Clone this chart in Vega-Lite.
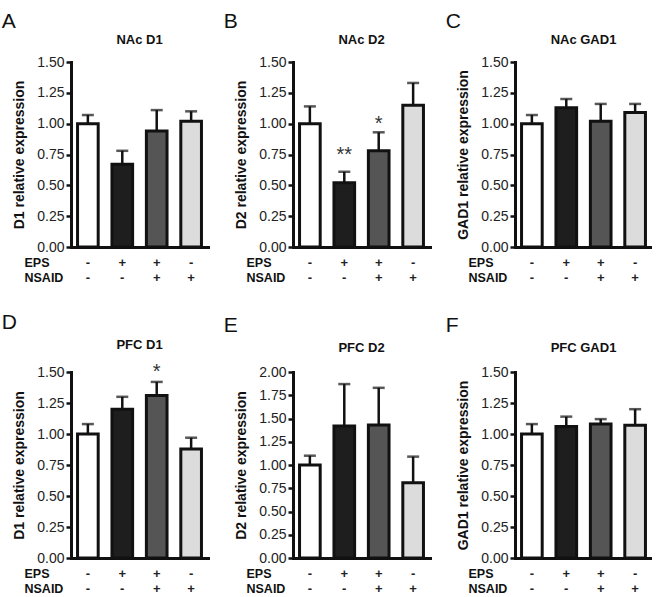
{
  "$schema": "https://vega.github.io/schema/vega-lite/v6.json",
  "padding": {"left": 1, "top": 11, "right": 0, "bottom": 0},
  "background": "white",
  "data": {"values": [
    {"panel": "A", "group": "ctrl", "mean": 1.00, "upper": 1.07},
    {"panel": "A", "group": "eps", "mean": 0.67, "upper": 0.78},
    {"panel": "A", "group": "both", "mean": 0.94, "upper": 1.11},
    {"panel": "A", "group": "nsaid", "mean": 1.02, "upper": 1.10},
    {"panel": "B", "group": "ctrl", "mean": 1.00, "upper": 1.14},
    {"panel": "B", "group": "eps", "mean": 0.52, "upper": 0.61, "star": "**", "star_y": 0.79},
    {"panel": "B", "group": "both", "mean": 0.78, "upper": 0.93, "star": "*", "star_y": 1.04},
    {"panel": "B", "group": "nsaid", "mean": 1.15, "upper": 1.33},
    {"panel": "C", "group": "ctrl", "mean": 1.00, "upper": 1.07},
    {"panel": "C", "group": "eps", "mean": 1.13, "upper": 1.20},
    {"panel": "C", "group": "both", "mean": 1.02, "upper": 1.16},
    {"panel": "C", "group": "nsaid", "mean": 1.09, "upper": 1.16},
    {"panel": "D", "group": "ctrl", "mean": 1.00, "upper": 1.08},
    {"panel": "D", "group": "eps", "mean": 1.20, "upper": 1.30},
    {"panel": "D", "group": "both", "mean": 1.31, "upper": 1.42, "star": "*", "star_y": 1.54},
    {"panel": "D", "group": "nsaid", "mean": 0.88, "upper": 0.97},
    {"panel": "E", "group": "ctrl", "mean": 1.00, "upper": 1.10},
    {"panel": "E", "group": "eps", "mean": 1.42, "upper": 1.87},
    {"panel": "E", "group": "both", "mean": 1.43, "upper": 1.83},
    {"panel": "E", "group": "nsaid", "mean": 0.81, "upper": 1.09},
    {"panel": "F", "group": "ctrl", "mean": 1.00, "upper": 1.08},
    {"panel": "F", "group": "eps", "mean": 1.06, "upper": 1.14},
    {"panel": "F", "group": "both", "mean": 1.08, "upper": 1.12},
    {"panel": "F", "group": "nsaid", "mean": 1.07, "upper": 1.20}
  ]},
  "spacing": 28,
  "vconcat": [
    {"hconcat": [
      {"title": {"text": "A", "anchor": "start", "fontSize": 21, "fontWeight": "normal", "dx": -11, "offset": 2},
       "vconcat": [{
        "width": 137, "height": 185,
        "title": {"text": "NAc D1", "fontSize": 13, "fontWeight": "bold", "offset": 8},
        "transform": [{"filter": "datum.panel == 'A'"}],
        "encoding": {"x": {"field": "group", "type": "nominal", "sort": ["ctrl", "eps", "both", "nsaid"], "scale": {"paddingInner": 0.4, "paddingOuter": 0.19},
          "axis": {"title": ["EPS", "NSAID"], "labelExpr": "datum.value == 'ctrl' ? ['-','-'] : datum.value == 'eps' ? ['+','-'] : datum.value == 'both' ? ['+','+'] : ['-','+']"}}},
        "layer": [
          {"mark": {"type": "bar", "stroke": "#111", "strokeWidth": 3},
           "encoding": {"y": {"field": "mean", "type": "quantitative", "title": "D1 relative expression", "scale": {"domain": [0, 1.5], "nice": false}, "axis": {"values": [0, 0.25, 0.5, 0.75, 1, 1.25, 1.5]}},
             "color": {"field": "group", "type": "nominal", "scale": {"domain": ["ctrl", "eps", "both", "nsaid"], "range": ["#ffffff", "#1e1e1e", "#555555", "#dcdcdc"]}, "legend": null}}},
          {"mark": {"type": "rule", "strokeWidth": 2.5, "color": "#111"},
           "encoding": {"y": {"field": "mean", "type": "quantitative", "title": "D1 relative expression", "axis": {"values": [0, 0.25, 0.5, 0.75, 1, 1.25, 1.5]}}, "y2": {"field": "upper"}}},
          {"mark": {"type": "tick", "size": 12, "thickness": 2.5, "color": "#111"},
           "encoding": {"y": {"field": "upper", "type": "quantitative", "title": "D1 relative expression", "axis": {"values": [0, 0.25, 0.5, 0.75, 1, 1.25, 1.5]}}}},
          {"transform": [{"filter": "datum.star"}], "mark": {"type": "text", "fontSize": 20, "color": "#333", "baseline": "alphabetic", "dy": 11},
           "encoding": {"y": {"field": "star_y", "type": "quantitative", "title": "D1 relative expression", "axis": {"values": [0, 0.25, 0.5, 0.75, 1, 1.25, 1.5]}}, "text": {"field": "star"}}}
        ]
      }]},
      {"title": {"text": "B", "anchor": "start", "fontSize": 21, "fontWeight": "normal", "dx": -11, "offset": 2},
       "vconcat": [{
        "width": 137, "height": 185,
        "title": {"text": "NAc D2", "fontSize": 13, "fontWeight": "bold", "offset": 8},
        "transform": [{"filter": "datum.panel == 'B'"}],
        "encoding": {"x": {"field": "group", "type": "nominal", "sort": ["ctrl", "eps", "both", "nsaid"], "scale": {"paddingInner": 0.4, "paddingOuter": 0.19},
          "axis": {"title": ["EPS", "NSAID"], "labelExpr": "datum.value == 'ctrl' ? ['-','-'] : datum.value == 'eps' ? ['+','-'] : datum.value == 'both' ? ['+','+'] : ['-','+']"}}},
        "layer": [
          {"mark": {"type": "bar", "stroke": "#111", "strokeWidth": 3},
           "encoding": {"y": {"field": "mean", "type": "quantitative", "title": "D2 relative expression", "scale": {"domain": [0, 1.5], "nice": false}, "axis": {"values": [0, 0.25, 0.5, 0.75, 1, 1.25, 1.5]}},
             "color": {"field": "group", "type": "nominal", "scale": {"domain": ["ctrl", "eps", "both", "nsaid"], "range": ["#ffffff", "#1e1e1e", "#555555", "#dcdcdc"]}, "legend": null}}},
          {"mark": {"type": "rule", "strokeWidth": 2.5, "color": "#111"},
           "encoding": {"y": {"field": "mean", "type": "quantitative", "title": "D2 relative expression", "axis": {"values": [0, 0.25, 0.5, 0.75, 1, 1.25, 1.5]}}, "y2": {"field": "upper"}}},
          {"mark": {"type": "tick", "size": 12, "thickness": 2.5, "color": "#111"},
           "encoding": {"y": {"field": "upper", "type": "quantitative", "title": "D2 relative expression", "axis": {"values": [0, 0.25, 0.5, 0.75, 1, 1.25, 1.5]}}}},
          {"transform": [{"filter": "datum.star"}], "mark": {"type": "text", "fontSize": 20, "color": "#333", "baseline": "alphabetic", "dy": 11},
           "encoding": {"y": {"field": "star_y", "type": "quantitative", "title": "D2 relative expression", "axis": {"values": [0, 0.25, 0.5, 0.75, 1, 1.25, 1.5]}}, "text": {"field": "star"}}}
        ]
      }]},
      {"title": {"text": "C", "anchor": "start", "fontSize": 21, "fontWeight": "normal", "dx": -11, "offset": 2},
       "vconcat": [{
        "width": 137, "height": 185,
        "title": {"text": "NAc GAD1", "fontSize": 13, "fontWeight": "bold", "offset": 8},
        "transform": [{"filter": "datum.panel == 'C'"}],
        "encoding": {"x": {"field": "group", "type": "nominal", "sort": ["ctrl", "eps", "both", "nsaid"], "scale": {"paddingInner": 0.4, "paddingOuter": 0.19},
          "axis": {"title": ["EPS", "NSAID"], "labelExpr": "datum.value == 'ctrl' ? ['-','-'] : datum.value == 'eps' ? ['+','-'] : datum.value == 'both' ? ['+','+'] : ['-','+']"}}},
        "layer": [
          {"mark": {"type": "bar", "stroke": "#111", "strokeWidth": 3},
           "encoding": {"y": {"field": "mean", "type": "quantitative", "title": "GAD1 relative expression", "scale": {"domain": [0, 1.5], "nice": false}, "axis": {"values": [0, 0.25, 0.5, 0.75, 1, 1.25, 1.5]}},
             "color": {"field": "group", "type": "nominal", "scale": {"domain": ["ctrl", "eps", "both", "nsaid"], "range": ["#ffffff", "#1e1e1e", "#555555", "#dcdcdc"]}, "legend": null}}},
          {"mark": {"type": "rule", "strokeWidth": 2.5, "color": "#111"},
           "encoding": {"y": {"field": "mean", "type": "quantitative", "title": "GAD1 relative expression", "axis": {"values": [0, 0.25, 0.5, 0.75, 1, 1.25, 1.5]}}, "y2": {"field": "upper"}}},
          {"mark": {"type": "tick", "size": 12, "thickness": 2.5, "color": "#111"},
           "encoding": {"y": {"field": "upper", "type": "quantitative", "title": "GAD1 relative expression", "axis": {"values": [0, 0.25, 0.5, 0.75, 1, 1.25, 1.5]}}}}
        ]
      }]}
    ]},
    {"hconcat": [
      {"title": {"text": "D", "anchor": "start", "fontSize": 21, "fontWeight": "normal", "dx": -11, "offset": 6},
       "vconcat": [{
        "width": 137, "height": 186,
        "title": {"text": "PFC D1", "fontSize": 13, "fontWeight": "bold", "offset": 10},
        "transform": [{"filter": "datum.panel == 'D'"}],
        "encoding": {"x": {"field": "group", "type": "nominal", "sort": ["ctrl", "eps", "both", "nsaid"], "scale": {"paddingInner": 0.4, "paddingOuter": 0.19},
          "axis": {"title": ["EPS", "NSAID"], "labelExpr": "datum.value == 'ctrl' ? ['-','-'] : datum.value == 'eps' ? ['+','-'] : datum.value == 'both' ? ['+','+'] : ['-','+']"}}},
        "layer": [
          {"mark": {"type": "bar", "stroke": "#111", "strokeWidth": 3},
           "encoding": {"y": {"field": "mean", "type": "quantitative", "title": "D1 relative expression", "scale": {"domain": [0, 1.5], "nice": false}, "axis": {"values": [0, 0.25, 0.5, 0.75, 1, 1.25, 1.5]}},
             "color": {"field": "group", "type": "nominal", "scale": {"domain": ["ctrl", "eps", "both", "nsaid"], "range": ["#ffffff", "#1e1e1e", "#555555", "#dcdcdc"]}, "legend": null}}},
          {"mark": {"type": "rule", "strokeWidth": 2.5, "color": "#111"},
           "encoding": {"y": {"field": "mean", "type": "quantitative", "title": "D1 relative expression", "axis": {"values": [0, 0.25, 0.5, 0.75, 1, 1.25, 1.5]}}, "y2": {"field": "upper"}}},
          {"mark": {"type": "tick", "size": 12, "thickness": 2.5, "color": "#111"},
           "encoding": {"y": {"field": "upper", "type": "quantitative", "title": "D1 relative expression", "axis": {"values": [0, 0.25, 0.5, 0.75, 1, 1.25, 1.5]}}}},
          {"transform": [{"filter": "datum.star"}], "mark": {"type": "text", "fontSize": 20, "color": "#333", "baseline": "alphabetic", "dy": 11},
           "encoding": {"y": {"field": "star_y", "type": "quantitative", "title": "D1 relative expression", "axis": {"values": [0, 0.25, 0.5, 0.75, 1, 1.25, 1.5]}}, "text": {"field": "star"}}}
        ]
      }]},
      {"title": {"text": "E", "anchor": "start", "fontSize": 21, "fontWeight": "normal", "dx": -11, "offset": 6},
       "vconcat": [{
        "width": 137, "height": 186,
        "title": {"text": "PFC D2", "fontSize": 13, "fontWeight": "bold", "offset": 10},
        "transform": [{"filter": "datum.panel == 'E'"}],
        "encoding": {"x": {"field": "group", "type": "nominal", "sort": ["ctrl", "eps", "both", "nsaid"], "scale": {"paddingInner": 0.4, "paddingOuter": 0.19},
          "axis": {"title": ["EPS", "NSAID"], "labelExpr": "datum.value == 'ctrl' ? ['-','-'] : datum.value == 'eps' ? ['+','-'] : datum.value == 'both' ? ['+','+'] : ['-','+']"}}},
        "layer": [
          {"mark": {"type": "bar", "stroke": "#111", "strokeWidth": 3},
           "encoding": {"y": {"field": "mean", "type": "quantitative", "title": "D2 relative expression", "scale": {"domain": [0, 2], "nice": false}, "axis": {"values": [0, 0.25, 0.5, 0.75, 1, 1.25, 1.5, 1.75, 2]}},
             "color": {"field": "group", "type": "nominal", "scale": {"domain": ["ctrl", "eps", "both", "nsaid"], "range": ["#ffffff", "#1e1e1e", "#555555", "#dcdcdc"]}, "legend": null}}},
          {"mark": {"type": "rule", "strokeWidth": 2.5, "color": "#111"},
           "encoding": {"y": {"field": "mean", "type": "quantitative", "title": "D2 relative expression", "axis": {"values": [0, 0.25, 0.5, 0.75, 1, 1.25, 1.5, 1.75, 2]}}, "y2": {"field": "upper"}}},
          {"mark": {"type": "tick", "size": 12, "thickness": 2.5, "color": "#111"},
           "encoding": {"y": {"field": "upper", "type": "quantitative", "title": "D2 relative expression", "axis": {"values": [0, 0.25, 0.5, 0.75, 1, 1.25, 1.5, 1.75, 2]}}}}
        ]
      }]},
      {"title": {"text": "F", "anchor": "start", "fontSize": 21, "fontWeight": "normal", "dx": -11, "offset": 6},
       "vconcat": [{
        "width": 137, "height": 186,
        "title": {"text": "PFC GAD1", "fontSize": 13, "fontWeight": "bold", "offset": 10},
        "transform": [{"filter": "datum.panel == 'F'"}],
        "encoding": {"x": {"field": "group", "type": "nominal", "sort": ["ctrl", "eps", "both", "nsaid"], "scale": {"paddingInner": 0.4, "paddingOuter": 0.19},
          "axis": {"title": ["EPS", "NSAID"], "labelExpr": "datum.value == 'ctrl' ? ['-','-'] : datum.value == 'eps' ? ['+','-'] : datum.value == 'both' ? ['+','+'] : ['-','+']"}}},
        "layer": [
          {"mark": {"type": "bar", "stroke": "#111", "strokeWidth": 3},
           "encoding": {"y": {"field": "mean", "type": "quantitative", "title": "GAD1 relative expression", "scale": {"domain": [0, 1.5], "nice": false}, "axis": {"values": [0, 0.25, 0.5, 0.75, 1, 1.25, 1.5]}},
             "color": {"field": "group", "type": "nominal", "scale": {"domain": ["ctrl", "eps", "both", "nsaid"], "range": ["#ffffff", "#1e1e1e", "#555555", "#dcdcdc"]}, "legend": null}}},
          {"mark": {"type": "rule", "strokeWidth": 2.5, "color": "#111"},
           "encoding": {"y": {"field": "mean", "type": "quantitative", "title": "GAD1 relative expression", "axis": {"values": [0, 0.25, 0.5, 0.75, 1, 1.25, 1.5]}}, "y2": {"field": "upper"}}},
          {"mark": {"type": "tick", "size": 12, "thickness": 2.5, "color": "#111"},
           "encoding": {"y": {"field": "upper", "type": "quantitative", "title": "GAD1 relative expression", "axis": {"values": [0, 0.25, 0.5, 0.75, 1, 1.25, 1.5]}}}}
        ]
      }]}
    ]}
  ],
  "config": {
    "font": "Liberation Sans",
    "view": {"stroke": null},
    "concat": {"spacing": 15},
    "title": {"color": "#111", "font": "Liberation Sans"},
    "axis": {"domainColor": "#111", "domainWidth": 3, "tickColor": "#111", "labelColor": "#222", "titleColor": "#111", "grid": false, "labelFont": "Liberation Sans", "titleFont": "Liberation Sans"},
    "axisY": {"format": ".2f", "labelFontSize": 14, "tickSize": 5, "tickWidth": 2.5, "labelPadding": 2, "labelOverlap": false, "titleFontSize": 14, "titleFontWeight": "bold", "titlePadding": 10, "domainCap": "square"},
    "axisX": {"labelAngle": 0, "ticks": false, "labelFontSize": 13, "labelFontWeight": "bold", "labelLineHeight": 15, "labelPadding": 9, "labelBaseline": "top", "titleX": -47, "titleY": 9, "titleAlign": "left", "titleBaseline": "top", "titleAngle": 0, "titleFontSize": 12.5, "titleFontWeight": "bold", "titleLineHeight": 15, "domainCap": "square"}
  }
}
